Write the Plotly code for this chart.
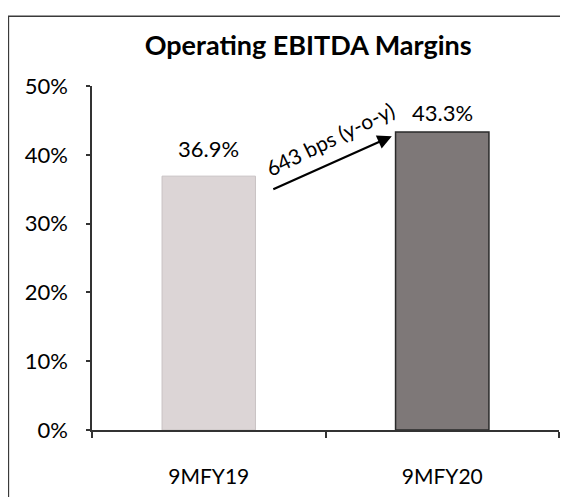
import plotly.graph_objects as go

categories = ["9MFY19", "9MFY20"]
margins = [36.9, 43.3]
value_labels = ["36.9%", "43.3%"]
tick_vals = [0, 10, 20, 30, 40, 50]
tick_text = ["0%", "10%", "20%", "30%", "40%", "50%"]
title_text = "Operating EBITDA Margins"
change_text = "643 bps (y-o-y)"

FONT = "Lato, 'Open Sans', sans-serif"
label_shifts = [12, 4]

fig = go.Figure()
fig.add_trace(go.Bar(
    x=categories, y=margins,
    width=0.4,
    marker=dict(color=["#dcd5d6", "#7e7878"],
                line=dict(color=["#c8c2c3", "#2a2a2a"], width=[1, 1.5])),
    hoverinfo="skip",
))

for cat, val, lab, sh in zip(categories, margins, value_labels, label_shifts):
    fig.add_annotation(x=cat, y=val, text=lab, showarrow=False,
                       yanchor="bottom", yshift=sh,
                       font=dict(size=22, family=FONT, color="#000000"))

fig.update_layout(
    width=560, height=489,
    margin=dict(l=84, r=9, t=78, b=61),
    paper_bgcolor="white", plot_bgcolor="white",
    showlegend=False,
    font=dict(family=FONT, size=21, color="#000000"),
    title=dict(text="<b>" + title_text + "</b>", x=0.536, xanchor="center",
               y=0.924, yanchor="middle",
               font=dict(size=27, family=FONT, color="#000000")),
    xaxis=dict(type="category", range=[-0.5, 1.5], showgrid=False,
               showline=True, linecolor="#333333", linewidth=1.5,
               ticks="outside", tickson="boundaries", ticklen=6,
               tickcolor="#333333", tickwidth=1.5,
               tickfont=dict(size=21, family=FONT, color="#000000"),
               ticklabelstandoff=27),
    yaxis=dict(range=[0, 50], tickvals=tick_vals, ticktext=tick_text,
               showgrid=False, zeroline=False,
               showline=True, linecolor="#333333", linewidth=1.5,
               ticks="outside", ticklen=4, tickcolor="#333333", tickwidth=1.5,
               tickfont=dict(size=22, family=FONT, color="#000000"),
               ticklabelstandoff=14),
)

# outer border of the chart box
fig.add_shape(type="rect", xref="paper", yref="paper",
              x0=-0.179, x1=1.015, y0=-0.3, y1=1.203,
              line=dict(color="#3a3a3a", width=1.5), layer="below")

# change arrow
fig.add_annotation(x=0.784, y=42.7, ax=0.27, ay=34.9,
                   xref="x", yref="y", axref="x", ayref="y",
                   showarrow=True, arrowhead=2, arrowsize=1.3, arrowwidth=2.2,
                   arrowcolor="#000000", text="")
fig.add_annotation(x=0.52, y=42.4, xref="x", yref="y",
                   text=change_text, showarrow=False, textangle=-26,
                   font=dict(size=21, family=FONT, color="#000000"))

fig.write_html("out.html")
